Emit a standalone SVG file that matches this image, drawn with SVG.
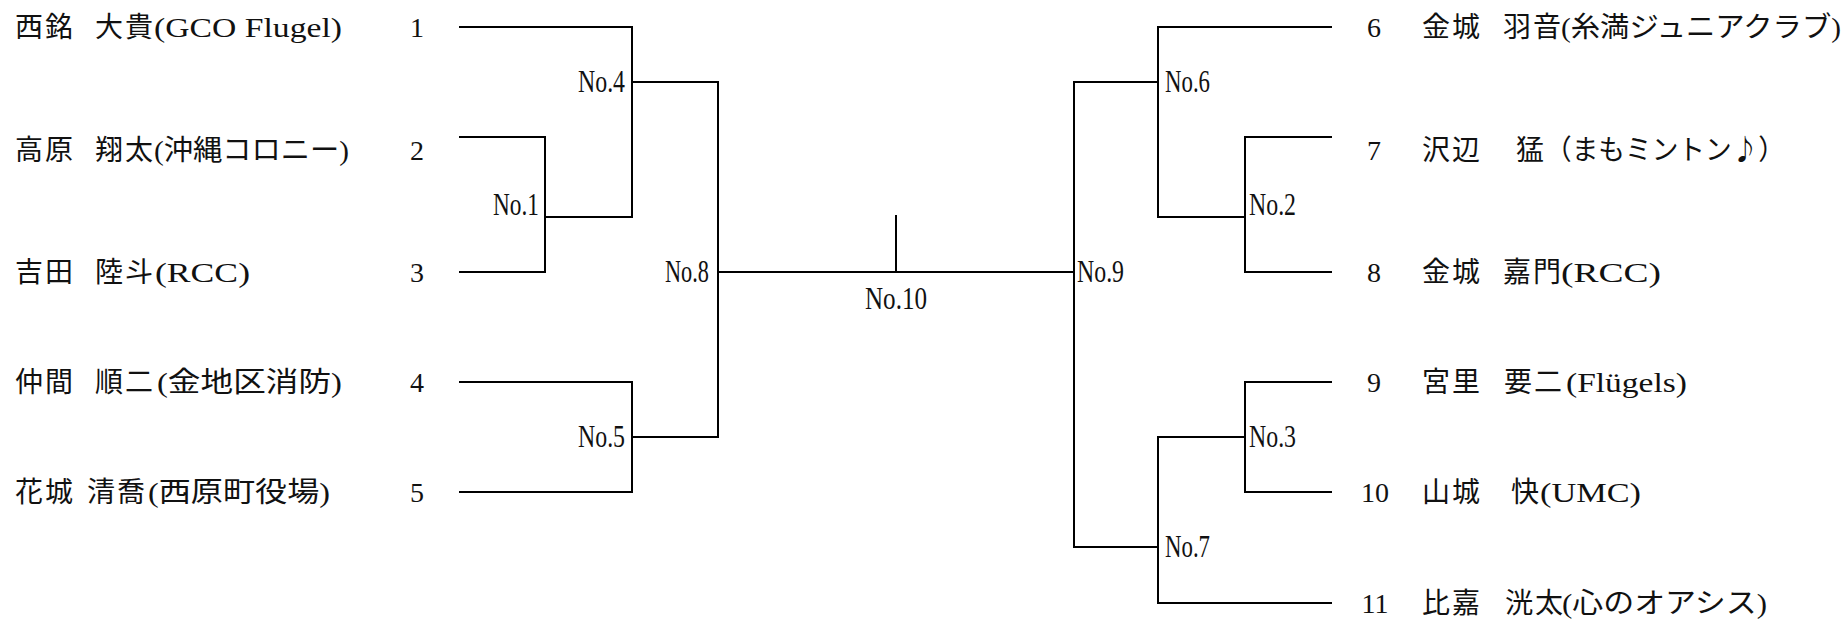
<svg xmlns="http://www.w3.org/2000/svg" width="1848" height="619" viewBox="0 0 1848 619">
<style>
  .ln { fill: none; stroke: #000; stroke-width: 2; stroke-linecap: square; }
  .t { font-family: "Liberation Serif", "Noto Sans CJK JP", serif; font-size: 28px; fill: #111; }
  .jp { font-family: "Noto Sans CJK JP", "Liberation Serif", sans-serif; }
  .cj { letter-spacing: 2px; }
  .num { text-anchor: middle; }
  .lab { font-family: "Liberation Serif", "Noto Sans CJK JP", serif; font-size: 32px; fill: #111; }
</style>
<rect width="1848" height="619" fill="#fff"/>

<g id="connectors">
  <path class="ln" d="M460,27 H632 M460,137 H545 M460,272 H545 M545,137 V272 M545,217 H632 M632,27 V217 M632,82 H718"/>
  <path class="ln" d="M460,382 H632 M460,492 H632 M632,382 V492 M632,437 H718 M718,82 V437"/>
  <path class="ln" d="M718,272 H1074 M896,216 V272"/>
  <path class="ln" d="M1074,82 V547 M1074,82 H1158 M1158,27 V217 M1158,27 H1331 M1158,217 H1245 M1245,137 V272 M1245,137 H1331 M1245,272 H1331"/>
  <path class="ln" d="M1074,547 H1158 M1158,437 V603 M1158,437 H1245 M1245,382 V492 M1245,382 H1331 M1245,492 H1331 M1158,603 H1331"/>
</g>

<g id="entrant-1">
  <text class="t cj" x="15" y="36.5">西銘</text>
  <text class="t cj" x="95" y="36.5">大貴</text>
  <text class="t" x="154" y="36.5" textLength="188" lengthAdjust="spacingAndGlyphs">(GCO Flugel)</text>
  <text class="t num" x="417" y="36.5">1</text>
</g>
<g id="entrant-2">
  <text class="t cj" x="15" y="160">高原</text>
  <text class="t cj" x="95" y="160">翔太</text>
  <text class="t" x="154" y="160" textLength="195" lengthAdjust="spacingAndGlyphs">(沖縄コロニー)</text>
  <text class="t num" x="417" y="160">2</text>
</g>
<g id="entrant-3">
  <text class="t cj" x="15" y="281.5">吉田</text>
  <text class="t cj" x="95" y="281.5">陸斗</text>
  <text class="t" x="155" y="281.5" textLength="95" lengthAdjust="spacingAndGlyphs">(RCC)</text>
  <text class="t num" x="417" y="281.5">3</text>
</g>
<g id="entrant-4">
  <text class="t cj" x="15" y="391.5">仲間</text>
  <text class="t cj" x="95" y="391.5">順二</text>
  <text class="t" x="157" y="391.5" textLength="185" lengthAdjust="spacingAndGlyphs">(金地区消防)</text>
  <text class="t num" x="417" y="391.5">4</text>
</g>
<g id="entrant-5">
  <text class="t cj" x="15" y="501.5">花城</text>
  <text class="t cj" x="87" y="501.5">清喬</text>
  <text class="t" x="148" y="501.5" textLength="182" lengthAdjust="spacingAndGlyphs">(西原町役場)</text>
  <text class="t num" x="417" y="501.5">5</text>
</g>

<g id="entrant-6">
  <text class="t num" x="1374" y="36.5">6</text>
  <text class="t cj" x="1422" y="36.5">金城</text>
  <text class="t cj" x="1503" y="36.5">羽音</text>
  <text class="t" x="1561" y="36.5" textLength="280" lengthAdjust="spacingAndGlyphs">(糸満ジュニアクラブ)</text>
</g>
<g id="entrant-7">
  <text class="t num" x="1374" y="160">7</text>
  <text class="t cj" x="1422" y="160">沢辺</text>
  <text class="t" x="1516" y="160">猛</text>
  <text class="t jp" x="1545" y="160" textLength="240" lengthAdjust="spacingAndGlyphs">（まもミントン♪）</text>
</g>
<g id="entrant-8">
  <text class="t num" x="1374" y="281.5">8</text>
  <text class="t cj" x="1422" y="281.5">金城</text>
  <text class="t cj" x="1503" y="281.5">嘉門</text>
  <text class="t" x="1561" y="281.5" textLength="100" lengthAdjust="spacingAndGlyphs">(RCC)</text>
</g>
<g id="entrant-9">
  <text class="t num" x="1374" y="391.5">9</text>
  <text class="t cj" x="1422" y="391.5">宮里</text>
  <text class="t cj" x="1504" y="391.5">要二</text>
  <text class="t" x="1566" y="391.5" textLength="121" lengthAdjust="spacingAndGlyphs">(Flügels)</text>
</g>
<g id="entrant-10">
  <text class="t num" x="1375" y="501.5">10</text>
  <text class="t cj" x="1422" y="501.5">山城</text>
  <text class="t" x="1511" y="501.5">快</text>
  <text class="t" x="1540" y="501.5" textLength="101" lengthAdjust="spacingAndGlyphs">(UMC)</text>
</g>
<g id="entrant-11">
  <text class="t num" x="1375" y="612.5">11</text>
  <text class="t cj" x="1422" y="612.5">比嘉</text>
  <text class="t cj" x="1505" y="612.5">洸太</text>
  <text class="t" x="1562" y="612.5" textLength="205" lengthAdjust="spacingAndGlyphs">(心のオアシス)</text>
</g>

<g id="match-1"><text class="lab" x="493" y="215" textLength="46" lengthAdjust="spacingAndGlyphs">No.1</text></g>
<g id="match-2"><text class="lab" x="1249" y="215" textLength="47" lengthAdjust="spacingAndGlyphs">No.2</text></g>
<g id="match-3"><text class="lab" x="1249" y="447" textLength="47" lengthAdjust="spacingAndGlyphs">No.3</text></g>
<g id="match-4"><text class="lab" x="578" y="92" textLength="47" lengthAdjust="spacingAndGlyphs">No.4</text></g>
<g id="match-5"><text class="lab" x="578" y="447" textLength="47" lengthAdjust="spacingAndGlyphs">No.5</text></g>
<g id="match-6"><text class="lab" x="1165" y="92" textLength="45" lengthAdjust="spacingAndGlyphs">No.6</text></g>
<g id="match-7"><text class="lab" x="1165" y="557" textLength="45" lengthAdjust="spacingAndGlyphs">No.7</text></g>
<g id="match-8"><text class="lab" x="665" y="282" textLength="44" lengthAdjust="spacingAndGlyphs">No.8</text></g>
<g id="match-9"><text class="lab" x="1077" y="282" textLength="47" lengthAdjust="spacingAndGlyphs">No.9</text></g>
<g id="match-10"><text class="lab" x="865" y="309" textLength="62" lengthAdjust="spacingAndGlyphs">No.10</text></g>
</svg>
